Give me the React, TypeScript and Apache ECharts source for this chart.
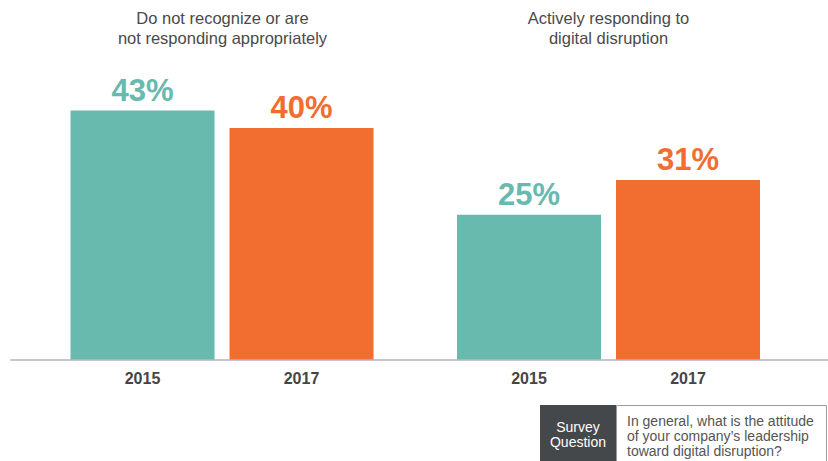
import React, { useEffect, useRef } from "react";
import * as echarts from "echarts";

const years = ["2015", "2017"];
const groupTitles = ["Do not recognize or are\nnot responding appropriately", "Actively responding to\ndigital disruption"];
const notRespondingValues = [43, 40];
const activelyRespondingValues = [25, 31];
const yearColors = ["#68baae", "#f26d30"];
const surveyLabel = "Survey\nQuestion";
const surveyQuestion = "In general, what is the attitude\nof your company\u2019s leadership\ntoward digital disruption?";

const FONT = "'Liberation Sans', Arial, Helvetica, sans-serif";

export default function App() {
  const ref = useRef<HTMLDivElement>(null);
  useEffect(() => {
    if (!ref.current) return;
    const chart = echarts.init(ref.current, undefined, { renderer: "svg" });
    const gridTop = 70;
    const gridH = 289.5;
    const makeSeries = (vals: number[], idx: number) => ({
      type: "bar",
      xAxisIndex: idx,
      yAxisIndex: idx,
      barWidth: 144,
      z: 3,
      data: vals.map((v, i) => ({
        value: v,
        itemStyle: { color: yearColors[i] },
        label: { color: yearColors[i] },
      })),
      label: {
        show: true,
        position: "top",
        distance: 5,
        formatter: "{c}%",
        fontFamily: FONT,
        fontWeight: "bold",
        fontSize: 31,
      },
    });
    const catAxis = (gridIndex: number) => ({
      type: "category",
      gridIndex,
      data: years,
      axisLine: { show: false },
      axisTick: { show: false },
      axisLabel: {
        margin: 11,
        fontFamily: FONT,
        fontWeight: "bold",
        fontSize: 16,
        color: "#454545",
      },
    });
    const valAxis = (gridIndex: number) => ({
      type: "value",
      gridIndex,
      min: 0,
      max: 50,
      show: false,
      splitLine: { show: false },
    });
    chart.setOption({
      animation: false,
      grid: [
        { left: 63, width: 318, top: gridTop, height: gridH },
        { left: 449.5, width: 318, top: gridTop, height: gridH },
        { left: 11, right: 0, top: gridTop, height: gridH + 0.5 },
      ],
      xAxis: [
        catAxis(0),
        catAxis(1),
        {
          type: "value",
          gridIndex: 2,
          min: 0,
          max: 1,
          axisLine: { show: true, lineStyle: { color: "#c4c7cf", width: 2 } },
          axisTick: { show: false },
          axisLabel: { show: false },
          splitLine: { show: false },
        },
      ],
      yAxis: [valAxis(0), valAxis(1), valAxis(2)],
      series: [makeSeries(notRespondingValues, 0), makeSeries(activelyRespondingValues, 1)],
      graphic: [
        {
          type: "text",
          x: 222.5,
          y: 28,
          style: {
            text: groupTitles[0],
            align: "center",
            verticalAlign: "middle",
            fontFamily: FONT,
            fontSize: 16.5,
            lineHeight: 20,
            fill: "#4a4a4a",
          },
        },
        {
          type: "text",
          x: 608.5,
          y: 28,
          style: {
            text: groupTitles[1],
            align: "center",
            verticalAlign: "middle",
            fontFamily: FONT,
            fontSize: 16.5,
            lineHeight: 20,
            fill: "#4a4a4a",
          },
        },
        {
          type: "rect",
          shape: { x: 540, y: 405, width: 76, height: 57 },
          style: { fill: "#45484b" },
        },
        {
          type: "rect",
          shape: { x: 616.5, y: 405.5, width: 210, height: 57 },
          style: { fill: "#ffffff", stroke: "#9a9a9a", lineWidth: 1 },
        },
        {
          type: "text",
          x: 578,
          y: 434,
          style: {
            text: surveyLabel,
            align: "center",
            verticalAlign: "middle",
            fontFamily: FONT,
            fontSize: 14,
            lineHeight: 15,
            fill: "#ffffff",
          },
        },
        {
          type: "text",
          x: 627,
          y: 435.5,
          style: {
            text: surveyQuestion,
            align: "left",
            verticalAlign: "middle",
            fontFamily: FONT,
            fontSize: 14,
            lineHeight: 15,
            fill: "#555555",
          },
        },
      ],
    });
    return () => chart.dispose();
  }, []);
  return (
    <div
      ref={ref}
      style={{ position: "fixed", left: 0, top: 0, width: 828, height: 461, background: "#fff" }}
    />
  );
}
